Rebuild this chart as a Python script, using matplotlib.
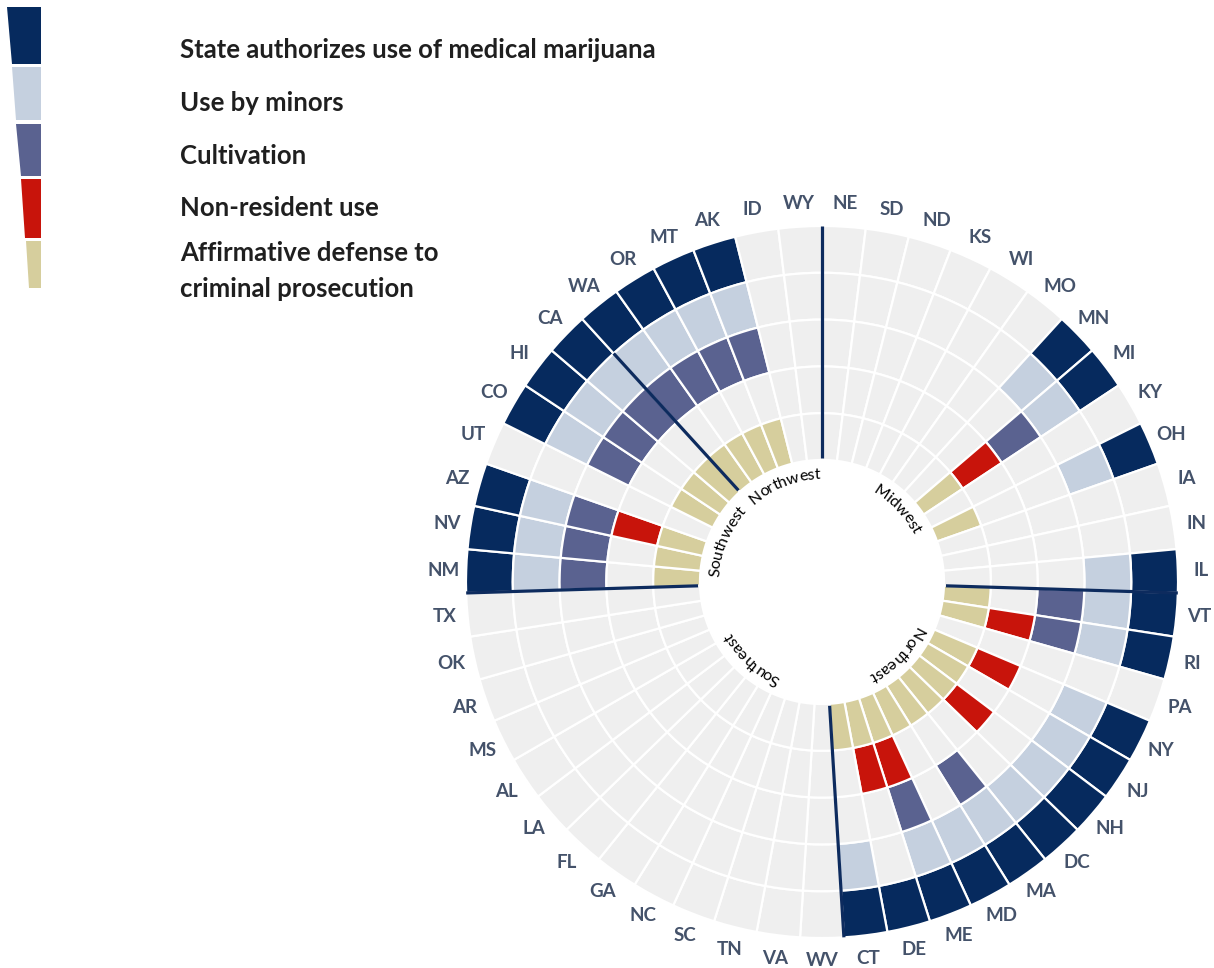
import numpy as np
import matplotlib.pyplot as plt
from matplotlib.font_manager import FontProperties

# states in clockwise order, starting at 12 o'clock
states = ['NE', 'SD', 'ND', 'KS', 'WI', 'MO', 'MN', 'MI', 'KY', 'OH', 'IA', 'IN', 'IL',
          'VT', 'RI', 'PA', 'NY', 'NJ', 'NH', 'DC', 'MA', 'MD', 'ME', 'DE', 'CT',
          'WV', 'VA', 'TN', 'SC', 'NC', 'GA', 'FL', 'LA', 'AL', 'MS', 'AR', 'OK', 'TX',
          'NM', 'NV', 'AZ', 'UT', 'CO', 'HI', 'CA', 'WA', 'OR', 'MT', 'AK', 'ID', 'WY']

medical = ['MN', 'MI', 'OH', 'IL', 'VT', 'RI', 'NY', 'NJ', 'NH', 'DC', 'MA', 'MD', 'ME',
           'DE', 'CT', 'NM', 'NV', 'AZ', 'CO', 'HI', 'CA', 'WA', 'OR', 'MT', 'AK']
minors = ['MN', 'MI', 'OH', 'IL', 'VT', 'RI', 'NY', 'NJ', 'NH', 'DC', 'MA', 'MD', 'ME',
          'CT', 'NM', 'NV', 'AZ', 'CO', 'HI', 'CA', 'WA', 'OR', 'MT', 'AK']
cultivation = ['MI', 'VT', 'RI', 'MA', 'ME', 'NM', 'NV', 'AZ', 'CO', 'HI', 'CA', 'WA',
               'OR', 'MT', 'AK']
nonresident = ['MI', 'RI', 'NY', 'NH', 'ME', 'DE', 'AZ']
defense = ['MI', 'OH', 'VT', 'RI', 'NY', 'NJ', 'NH', 'DC', 'MA', 'MD', 'ME', 'DE', 'CT',
           'NM', 'NV', 'AZ', 'CO', 'HI', 'CA', 'WA', 'OR', 'MT', 'AK']

# outer ring -> inner ring
layers = [medical, minors, cultivation, nonresident, defense]
layer_names = ['State authorizes use of medical marijuana', 'Use by minors', 'Cultivation',
               'Non-resident use', 'Affirmative defense to\ncriminal prosecution']
colors = ['#062A5E', '#C5D0DF', '#5A6290', '#C8140B', '#D6CE9D']
empty = '#EFEFEF'

regions = ['Midwest', 'Northeast', 'Southeast', 'Southwest', 'Northwest']
region_start = ['NE', 'VT', 'WV', 'NM', 'WA']

FONT = ['Lato', 'DejaVu Sans']
plt.rcParams['font.family'] = FONT

fig = plt.figure(figsize=(12.14, 9.68), dpi=100)

# polar axes, 1 data unit = 1 pixel of radius
cx, cy, half = 822, 968 - 582, 400
ax = fig.add_axes([(cx - half) / 1214, (cy - half) / 968, 2 * half / 1214, 2 * half / 968],
                  projection='polar')
ax.set_theta_zero_location('N')
ax.set_theta_direction(-1)
ax.set_ylim(0, half)
ax.axis('off')

n = len(states)
step = 2 * np.pi / n
theta = np.arange(n) * step + step / 2
r_in, ring_w = 122, 46.8

for i, layer in enumerate(layers):
    j = len(layers) - 1 - i  # ring index from inside
    cols = [colors[i] if s in layer else empty for s in states]
    ax.bar(theta, ring_w, width=step, bottom=r_in + j * ring_w, color=cols,
           edgecolor='white', linewidth=1.6)

r_out = r_in + len(layers) * ring_w

# region dividers
for k, st in enumerate(region_start):
    t = states.index(st) * step
    top = r_out if st != 'WA' else r_out - ring_w
    ax.plot([t, t], [r_in + 2, top], color='#0D2B5E', lw=2.3, solid_capstyle='butt')

# state labels
for t, st in zip(theta, states):
    ax.text(t, 379, st, ha='center', va='center', fontsize=13.5, fontweight='bold',
            color='#44526A')

# curved region names inside the hole
renderer = fig.canvas.get_renderer()
fp = FontProperties(family=FONT, size=11.5)


def arc_text(s, t_mid, r):
    w = [0.0] + [renderer.get_text_width_height_descent(s[:i], fp, ismath=False)[0]
                 for i in range(1, len(s) + 1)]
    t0 = t_mid - w[-1] / 2 / r
    for i, ch in enumerate(s):
        t = t0 + (w[i] + w[i + 1]) / 2 / r
        ax.text(t, r, ch, fontproperties=fp, ha='center', va='center',
                rotation=-np.degrees(t), rotation_mode='anchor', color='black')


bounds = [states.index(s) for s in region_start] + [n]
for k, name in enumerate(regions):
    mid = (bounds[k] + bounds[k + 1]) / 2 * step
    arc_text(name, mid, 107)

# legend: tapered key on the left
lax = fig.add_axes([0, 1 - 300 / 968, 50 / 1214, 300 / 968])
lax.set_xlim(0, 50)
lax.set_ylim(300, 0)
lax.axis('off')
seg = [(7, 64), (67, 120), (124, 176), (179, 238), (241, 288)]
for (y0, y1), c in zip(seg, colors):
    x0, x1 = 7 + (y0 - 7) * 0.08, 7 + (y1 - 7) * 0.08
    lax.fill([x0, 41, 41, x1], [y0, y0, y1, y1], color=c, lw=0)

text_y = [50, 103, 156, 208, 253]
for y, name in zip(text_y, layer_names):
    for m, line in enumerate(name.split('\n')):
        fig.text(180 / 1214, 1 - (y + m * 36) / 968, line, ha='left', va='center',
                 fontsize=18.5, fontweight='bold', color='#1F1F1F')

fig.savefig('out.png', dpi=100)
